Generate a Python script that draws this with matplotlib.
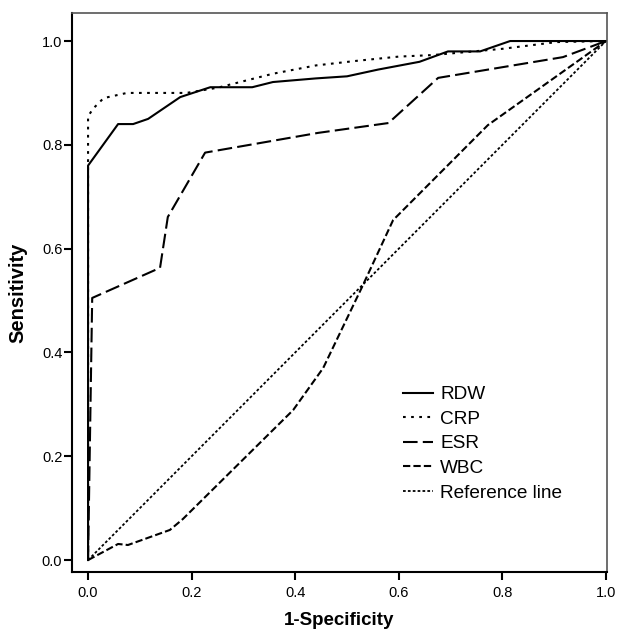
import matplotlib
matplotlib.use("Agg")
import matplotlib.pyplot as plt

plt.rcParams['font.family'] = ['Liberation Sans', 'DejaVu Sans']

# ROC curve points
rdw_x = [0, 0, 0.058, 0.087, 0.116, 0.178, 0.236, 0.317, 0.357, 0.44, 0.50, 0.56, 0.64, 0.695, 0.757, 0.815, 1.0]
rdw_y = [0, 0.76, 0.84, 0.84, 0.85, 0.892, 0.911, 0.911, 0.921, 0.928, 0.932, 0.945, 0.96, 0.98, 0.98, 1.0, 1.0]

crp_x = [0, 0, 0.01, 0.03, 0.075, 0.19, 0.25, 0.357, 0.44, 0.52, 0.60, 0.666, 0.80, 0.905, 1.0]
crp_y = [0, 0.855, 0.87, 0.89, 0.90, 0.90, 0.91, 0.937, 0.953, 0.962, 0.97, 0.973, 0.985, 0.998, 1.0]

esr_x = [0, 0.008, 0.139, 0.154, 0.226, 0.444, 0.58, 0.676, 0.917, 1.0]
esr_y = [0, 0.505, 0.563, 0.661, 0.785, 0.823, 0.842, 0.929, 0.969, 1.0]

wbc_x = [0, 0.058, 0.077, 0.158, 0.183, 0.396, 0.454, 0.529, 0.589, 0.602, 0.772, 1.0]
wbc_y = [0, 0.031, 0.029, 0.058, 0.079, 0.289, 0.37, 0.526, 0.655, 0.668, 0.838, 1.0]

ref_x = [0, 1]
ref_y = [0, 1]

fig = plt.figure(figsize=(6.18, 6.31), dpi=100)
ax = fig.add_axes([72 / 618, 1 - 572 / 631, 535 / 618, 559 / 631])

ax.plot(rdw_x, rdw_y, color='black', lw=1.5, label='RDW')
ax.plot(crp_x, crp_y, color='black', lw=1.5, dashes=(1.3, 2.6), label='CRP')
ax.plot(esr_x, esr_y, color='black', lw=1.5, dashes=(7, 2.5), label='ESR')
ax.plot(wbc_x, wbc_y, color='black', lw=1.5, dashes=(3.5, 1.5), label='WBC')
ax.plot(ref_x, ref_y, color='black', lw=1.3, dashes=(1.5, 1.2), label='Reference line')

ax.set_xlim(-0.031, 1.002)
ax.set_ylim(-0.023, 1.054)
ax.set_xticks([0, 0.2, 0.4, 0.6, 0.8, 1.0])
ax.set_yticks([0, 0.2, 0.4, 0.6, 0.8, 1.0])
ax.set_xticklabels(['0.0', '0.2', '0.4', '0.6', '0.8', '1.0'])
ax.set_yticklabels(['0.0', '0.2', '0.4', '0.6', '0.8', '1.0'])
ax.tick_params(direction='out', length=6, width=1.5, labelsize=10.5, colors='black')
ax.tick_params(axis='y', pad=1)
ax.tick_params(axis='x', pad=4)

for side in ['left', 'bottom']:
    ax.spines[side].set_linewidth(1.5)
    ax.spines[side].set_color('black')
for side in ['top', 'right']:
    ax.spines[side].set_linewidth(1.2)
    ax.spines[side].set_color('#555555')

ax.set_xlabel('1-Specificity', fontsize=13.5, fontweight='bold', labelpad=9)
ax.set_ylabel('Sensitivity', fontsize=14.5, fontweight='bold', labelpad=10)

ax.legend(loc='upper left', bbox_to_anchor=(403 / 618, 1 - 386 / 631),
          bbox_transform=fig.transFigure, frameon=False, fontsize=13.7,
          borderpad=0, borderaxespad=0, handlelength=1.58, handletextpad=0.37,
          labelspacing=0.38)

fig.savefig('out.png', dpi=100)
